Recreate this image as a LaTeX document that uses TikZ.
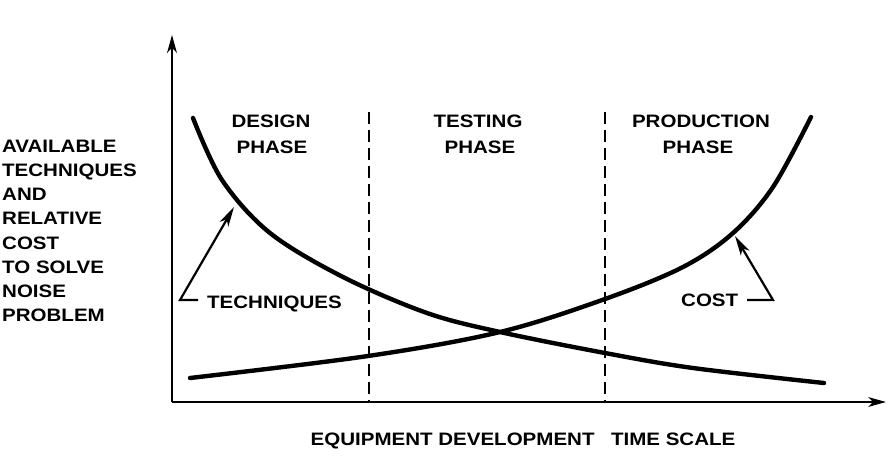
\documentclass[tikz,border=0pt]{standalone}
\usepackage{fontspec}
\setmainfont{Liberation Sans}[FakeStretch=1.14]
\usetikzlibrary{calc}
\newcommand{\myhead}[4]{% tip, from, length, halfwidth
  \fill (#1) -- ($($(#1)!#3!(#2)$)!#4!90:(#1)$) -- ($(#1)!0.72*#3!(#2)$) -- ($($(#1)!#3!(#2)$)!#4!-90:(#1)$) -- cycle;}
\begin{document}
\begin{tikzpicture}[x=1pt,y=-1pt,
  lbl/.style={inner sep=0pt,font=\fontsize{18}{24}\selectfont\bfseries,anchor=base},
  lblw/.style={lbl,anchor=base west},
  axis/.style={line width=2.4pt,shorten >=10pt},
  phaseline/.style={line width=1.8pt,dash pattern=on 12pt off 6pt},
  curve/.style={line width=4.4pt,line cap=round},
  pointer/.style={line width=2.2pt,line join=miter,shorten >=10pt}]
\useasboundingbox (0,0) rectangle (895,467);
% axes
\coordinate (O) at (172,402);
\coordinate (Ytop) at (172,35);
\coordinate (Xend) at (886,402);
\draw[axis] (O) -- (Ytop);
\draw[axis] (O) -- (Xend);
\myhead{Ytop}{O}{18pt}{5pt}
\myhead{Xend}{O}{18pt}{5pt}
% phase separators
\coordinate (d1t) at (369,112); \coordinate (d1b) at (369,402);
\coordinate (d2t) at (605,112); \coordinate (d2b) at (605,402);
\draw[phaseline] (d1t) -- (d1b);
\draw[phaseline] (d2t) -- (d2b);
% curves
\draw[curve] plot[smooth,tension=0.55] coordinates {(193,118) (222,180) (270,233) (343,277) (427,313) (500,332) (605,353) (693,368) (824,383)};
\draw[curve] plot[smooth,tension=0.55] coordinates {(190,378) (368,356) (500,332) (605,299) (683,267) (733,233) (773,187) (811,117)};
% y-axis label
\foreach \t [count=\i] in {AVAILABLE,TECHNIQUES,AND,RELATIVE,COST,TO SOLVE,NOISE,PROBLEM}
  \node[lblw] (l\i) at (2,{152.3+24.2*(\i-1)}) {\t};
% phase labels
\node[lbl] (des) at (271,127) {DESIGN};
\node[lbl] (desp) at (272,153) {PHASE};
\node[lbl] (tes) at (478,127) {TESTING};
\node[lbl] (tesp) at (480,153) {PHASE};
\node[lbl] (pro) at (701,127) {PRODUCTION};
\node[lbl] (prop) at (698,153) {PHASE};
% curve labels
\node[lblw] (tech) at (207,308) {TECHNIQUES};
\node[lblw] (cost) at (681,306) {COST};
\coordinate (th) at (198,300);
\coordinate (tb) at (180,300);
\coordinate (tt) at (234,207);
\draw[pointer] (th) -- (tb) -- (tt);
\myhead{tt}{tb}{20pt}{5pt}
\coordinate (ch) at (747,300);
\coordinate (cb) at (773,300);
\coordinate (ct) at (735,236);
\draw[pointer] (ch) -- (cb) -- (ct);
\myhead{ct}{cb}{20pt}{5pt}
% x-axis label
\node[lbl] (xl) at (523,445) {EQUIPMENT DEVELOPMENT\hspace{0.6em} TIME SCALE};
\end{tikzpicture}
\end{document}
